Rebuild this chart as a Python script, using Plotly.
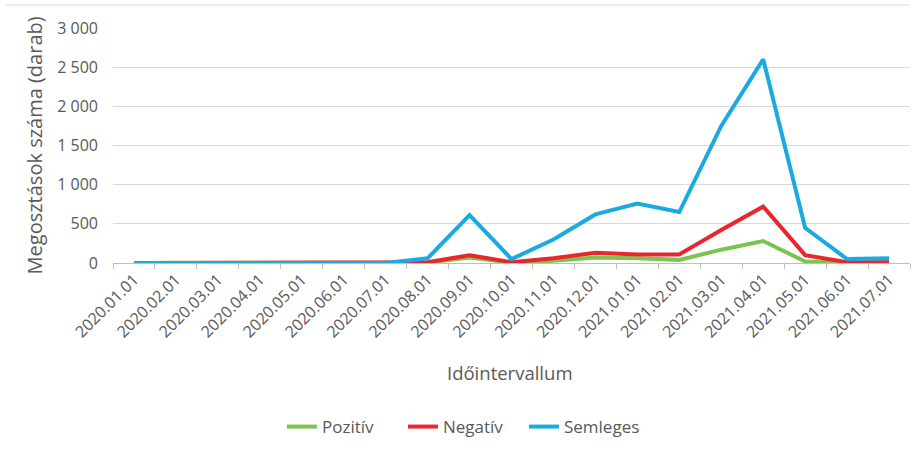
import plotly.graph_objects as go

categories = ["2020.01.01", "2020.02.01", "2020.03.01", "2020.04.01", "2020.05.01",
              "2020.06.01", "2020.07.01", "2020.08.01", "2020.09.01", "2020.10.01",
              "2020.11.01", "2020.12.01", "2021.01.01", "2021.02.01", "2021.03.01",
              "2021.04.01", "2021.05.01", "2021.06.01", "2021.07.01"]
pozitiv = [0, 0, 0, 0, 0, 0, 0, 5, 70, 5, 30, 70, 60, 40, 170, 280, 20, 5, 5]
negativ = [0, 0, 0, 0, 0, 0, 0, 10, 100, 10, 60, 130, 110, 110, 420, 720, 100, 10, 10]
semleges = [0, 0, 0, 0, 0, 0, 0, 60, 610, 50, 300, 620, 760, 650, 1750, 2600, 450, 50, 60]
y_ticks = [0, 500, 1000, 1500, 2000, 2500, 3000]

FONT = "Open Sans"
TXT = "#595959"

fig = go.Figure()
for name, vals, col in [("Pozitív", pozitiv, "#7CC352"),
                        ("Negatív", negativ, "#E8262B"),
                        ("Semleges", semleges, "#1BA9E1")]:
    fig.add_trace(go.Scatter(x=categories, y=vals, name=name, mode="lines",
                             line=dict(color=col, width=4)))

fig.update_layout(
    width=912, height=456,
    margin=dict(l=113, r=2, t=28, b=193),
    paper_bgcolor="white", plot_bgcolor="white",
    separators=", ",
    font=dict(family=FONT, color=TXT, size=15),
    showlegend=True,
    legend=dict(orientation="h", x=0.212, xanchor="left", y=-0.698, yanchor="middle",
                font=dict(size=17, color=TXT), tracegroupgap=0,
                entrywidth=76, entrywidthmode="pixels"),
    xaxis=dict(type="category", showgrid=False, showline=True, linecolor="#BFBFBF",
               linewidth=1, ticks="outside", tickson="boundaries", ticklen=5,
               tickcolor="#BFBFBF", tickangle=-45, tickfont=dict(size=16, color=TXT),
               range=[-0.5, 18.5], automargin=False),
    yaxis=dict(range=[0, 3000], tickvals=y_ticks, tickformat=",d", showgrid=True,
               gridcolor="#D9D9D9", gridwidth=1, zeroline=False, showline=False,
               ticks="", ticklabelstandoff=14, tickfont=dict(size=16, color=TXT),
               automargin=False),
)
fig.add_annotation(text="Megosztások száma (darab)", xref="paper", yref="paper",
                   x=-0.098, y=0.5, xanchor="center", yanchor="middle", textangle=-90,
                   showarrow=False, font=dict(size=20, color=TXT))
fig.add_annotation(text="Időintervallum", xref="paper", yref="paper",
                   x=0.498, y=-0.465, xanchor="center", yanchor="middle",
                   showarrow=False, font=dict(size=18.5, color=TXT))
fig.add_shape(type="line", xref="paper", yref="paper", x0=-0.135, x1=1.0, y0=1.098, y1=1.098,
              line=dict(color="#D9D9D9", width=1))

fig.write_html("out.html", config={"displayModeBar": False},
               post_script="document.body.style.margin='0';document.body.style.overflow='hidden';")
